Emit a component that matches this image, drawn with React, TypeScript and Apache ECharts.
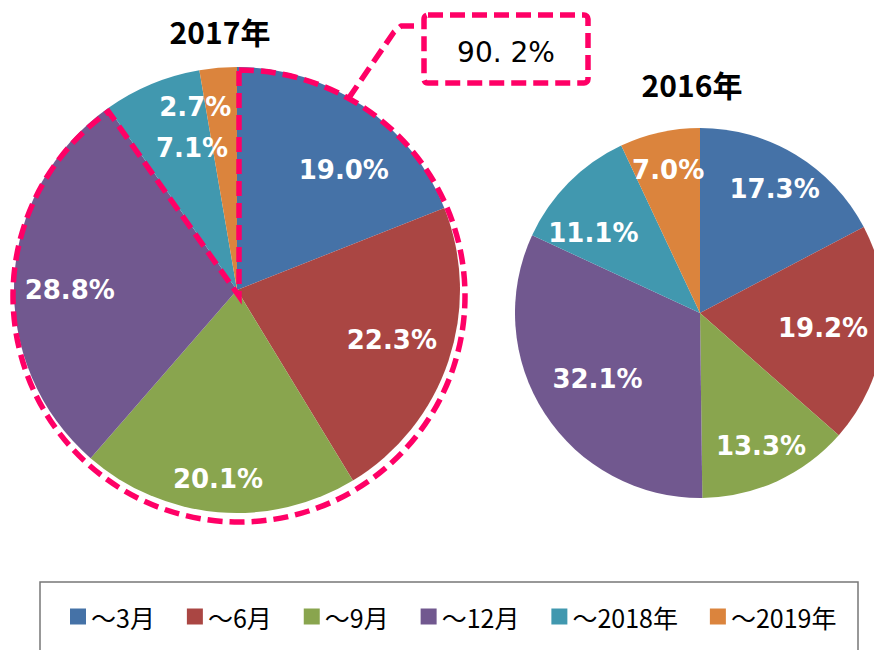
import React, { useEffect, useRef } from 'react';
import * as echarts from 'echarts';

const CATEGORIES = ['～3月', '～6月', '～9月', '～12月', '～2018年', '～2019年'];
const VALUES_2017 = [19.0, 22.3, 20.1, 28.8, 7.1, 2.7];
const VALUES_2016 = [17.3, 19.2, 13.3, 32.1, 11.1, 7.0];
const YEAR_TITLES = ['2017年', '2016年'];
const HIGHLIGHT_COUNT = 4; // first four slices of 2017 are outlined

const COLORS = ['#4572A7', '#AA4643', '#89A54E', '#71588F', '#4198AF', '#DB843D'];
const MAGENTA = '#FF0066';

// layout (pixels)
const PIES = [
  { cx: 237, cy: 290, r: 223 },
  { cx: 700, cy: 313, r: 185 },
];
const LABEL_DIST = [
  [0.72, 0.73, 0.85, 0.75, 0.67, 0.84],
  [0.78, 0.67, 0.79, 0.66, 0.72, 0.79],
];
const LABEL_NUDGE_DEG = [
  [7.5, -0.6, 0.9, -2.9, 5, -8],
  [0, 0, 0, 0, -8, 0],
];
const OUTLINE = { cx: 239, cy: 296, r: 226 };
const DASH = [15, 7];

export default function App() {
  const ref = useRef<HTMLDivElement>(null);
  useEffect(() => {
    if (!ref.current) return;
    const chart = echarts.init(ref.current, null, { renderer: 'svg' });
    const allValues = [VALUES_2017, VALUES_2016];

    const makeSeries = (si: number) => {
      const vals = allValues[si];
      const pie = PIES[si];
      const total = vals.reduce((a, b) => a + b, 0);
      return {
        type: 'pie',
        name: YEAR_TITLES[si],
        center: [pie.cx, pie.cy],
        radius: [0, pie.r],
        startAngle: 90,
        clockwise: true,
        silent: true,
        avoidLabelOverlap: false,
        emphasis: { disabled: true },
        itemStyle: { borderWidth: 0 },
        label: {
          show: true,
          position: 'inside',
          color: '#fff',
          fontFamily: '"DejaVu Sans", Verdana, sans-serif',
          fontWeight: 'bold',
          fontSize: 26,
          formatter: (p: any) => Number(p.value).toFixed(1) + '%',
        },
        labelLine: { show: false },
        labelLayout: (p: any) => {
          const idx = p.dataIndex;
          let cum = 0;
          for (let j = 0; j < idx; j++) cum += vals[j];
          const mid = ((cum + vals[idx] / 2) / total) * 360 + LABEL_NUDGE_DEG[si][idx];
          const rad = (mid * Math.PI) / 180;
          const d = LABEL_DIST[si][idx] * pie.r;
          return {
            x: pie.cx + d * Math.sin(rad),
            y: pie.cy - d * Math.cos(rad),
            align: 'center',
            verticalAlign: 'middle',
          };
        },
        data: CATEGORIES.map((name, i) => ({ name, value: vals[i], itemStyle: { color: COLORS[i] } })),
      };
    };

    const total17 = VALUES_2017.reduce((a, b) => a + b, 0);
    const highlightSum = VALUES_2017.slice(0, HIGHLIGHT_COUNT).reduce((a, b) => a + b, 0);
    const highlightText = highlightSum.toFixed(1).replace('.', '. ') + '%';
    const startA = -Math.PI / 2;
    const endA = startA + (highlightSum / total17) * Math.PI * 2;
    const connA = (29 * Math.PI) / 180;
    const connStart = [OUTLINE.cx + OUTLINE.r * Math.sin(connA), OUTLINE.cy - OUTLINE.r * Math.cos(connA)];

    const titleStyle = {
      fontFamily: '"Noto Sans CJK JP", sans-serif',
      fontWeight: 'bold',
      fontSize: 30,
      color: '#000',
    };

    chart.setOption({
      animation: false,
      title: [
        { text: YEAR_TITLES[0], left: 220, top: 16, textAlign: 'center', padding: 0, textStyle: titleStyle },
        { text: YEAR_TITLES[1], left: 692, top: 69, textAlign: 'center', padding: 0, textStyle: titleStyle },
      ],
      legend: {
        left: 70,
        top: 604,
        padding: 0,
        itemWidth: 16,
        itemHeight: 16,
        itemGap: 32,
        icon: 'rect',
        selectedMode: false,
        data: CATEGORIES,
        textStyle: {
          fontFamily: '"Noto Sans CJK JP", sans-serif',
          fontSize: 25,
          color: '#000',
        },
      },
      graphic: [
        {
          type: 'rect',
          shape: { x: 40, y: 582, width: 818, height: 100 },
          style: { fill: 'none', stroke: '#777', lineWidth: 1.5 },
          z: 1,
          silent: true,
        },
        {
          type: 'sector',
          shape: { cx: OUTLINE.cx, cy: OUTLINE.cy, r0: 0, r: OUTLINE.r, startAngle: startA, endAngle: endA, clockwise: true },
          style: { fill: 'none', stroke: MAGENTA, lineWidth: 5.5, lineDash: DASH },
          z: 100,
          silent: true,
        },
        {
          type: 'polyline',
          shape: { points: [connStart, [394, 32], [401, 26], [414, 26]] },
          style: { fill: 'none', stroke: MAGENTA, lineWidth: 5.5, lineDash: DASH, lineJoin: 'round' },
          z: 100,
          silent: true,
        },
        {
          type: 'rect',
          shape: { x: 424, y: 15, width: 164, height: 68, r: 4 },
          style: { fill: '#fff', stroke: MAGENTA, lineWidth: 5.5, lineDash: DASH },
          z: 100,
          silent: true,
        },
        {
          type: 'text',
          x: 506,
          y: 52,
          style: {
            text: highlightText,
            font: '28px "DejaVu Sans", sans-serif',
            fill: '#000',
            align: 'center',
            verticalAlign: 'middle',
            textAlign: 'center',
            textVerticalAlign: 'middle',
          },
          z: 101,
          silent: true,
        },
      ],
      series: [makeSeries(0), makeSeries(1)],
    });
    return () => chart.dispose();
  }, []);
  return <div ref={ref} style={{ position: 'fixed', left: 0, top: 0, width: 874, height: 650, background: '#fff' }} />;
}
